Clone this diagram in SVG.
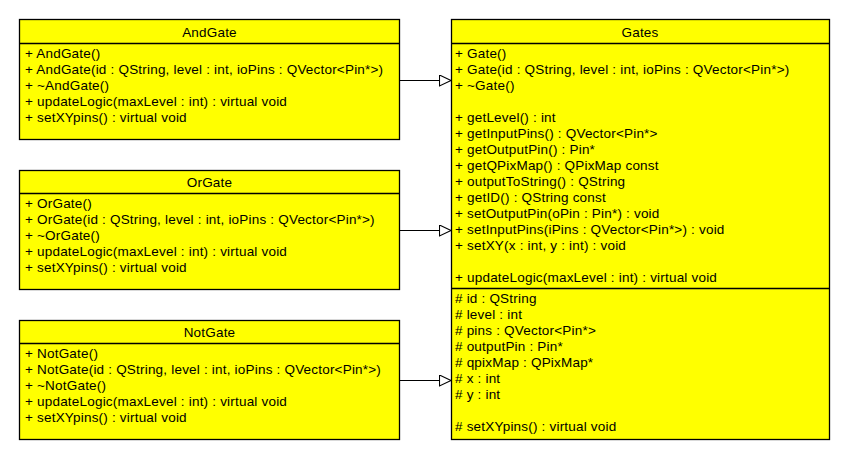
<svg xmlns="http://www.w3.org/2000/svg" width="850" height="460" viewBox="0 0 850 460">
  <defs>
    <style>
      .box { fill: #ffff00; stroke: #000000; stroke-width: 1.3; }
      .sep { stroke: #000000; stroke-width: 1.3; }
      text { font-family: "Liberation Sans", Arial, sans-serif; font-size: 13.5px; letter-spacing: 0.2px; fill: #000000; }
      .title { text-anchor: middle; }
      .edge { fill: none; stroke: #000000; stroke-width: 1.2; }
    </style>
    <!-- hollow triangle for generalization -->
    <marker id="inherit" markerWidth="14" markerHeight="14" refX="12" refY="6" orient="auto" markerUnits="userSpaceOnUse">
      <path d="M0.5,0.5 L12,6 L0.5,11.5 Z" fill="#ffffff" stroke="#000000" stroke-width="1.1"/>
    </marker>
  </defs>
  <rect width="850" height="460" fill="#ffffff"/>

  <g id="connectors">
    <line class="edge" x1="399.5" y1="80.5" x2="451" y2="80.5" marker-end="url(#inherit)"/>
    <line class="edge" x1="399.5" y1="230.5" x2="451" y2="230.5" marker-end="url(#inherit)"/>
    <line class="edge" x1="399.5" y1="380.5" x2="451" y2="380.5" marker-end="url(#inherit)"/>
  </g>

  <g id="AndGate">
    <rect class="box" x="19.5" y="19.5" width="380" height="120"/>
    <line class="sep" x1="19.5" y1="43.5" x2="399.5" y2="43.5"/>
    <text class="title" x="209.5" y="37">AndGate</text>
    <text x="25" y="58">+ AndGate()</text>
    <text x="25" y="74">+ AndGate(id : QString, level : int, ioPins : QVector&lt;Pin*&gt;)</text>
    <text x="25" y="90">+ ~AndGate()</text>
    <text x="25" y="106">+ updateLogic(maxLevel : int) : virtual void</text>
    <text x="25" y="122">+ setXYpins() : virtual void</text>
  </g>

  <g id="OrGate">
    <rect class="box" x="19.5" y="170.5" width="380" height="119"/>
    <line class="sep" x1="19.5" y1="193.5" x2="399.5" y2="193.5"/>
    <text class="title" x="209.5" y="187">OrGate</text>
    <text x="25" y="208">+ OrGate()</text>
    <text x="25" y="224">+ OrGate(id : QString, level : int, ioPins : QVector&lt;Pin*&gt;)</text>
    <text x="25" y="240">+ ~OrGate()</text>
    <text x="25" y="256">+ updateLogic(maxLevel : int) : virtual void</text>
    <text x="25" y="272">+ setXYpins() : virtual void</text>
  </g>

  <g id="NotGate">
    <rect class="box" x="19.5" y="320.5" width="380" height="119"/>
    <line class="sep" x1="19.5" y1="343.5" x2="399.5" y2="343.5"/>
    <text class="title" x="209.5" y="337">NotGate</text>
    <text x="25" y="358">+ NotGate()</text>
    <text x="25" y="374">+ NotGate(id : QString, level : int, ioPins : QVector&lt;Pin*&gt;)</text>
    <text x="25" y="390">+ ~NotGate()</text>
    <text x="25" y="406">+ updateLogic(maxLevel : int) : virtual void</text>
    <text x="25" y="422">+ setXYpins() : virtual void</text>
  </g>

  <g id="Gates">
    <rect class="box" x="451.5" y="19.5" width="378" height="420"/>
    <line class="sep" x1="451.5" y1="43.5" x2="829.5" y2="43.5"/>
    <line class="sep" x1="451.5" y1="288.5" x2="829.5" y2="288.5"/>
    <text class="title" x="640" y="37">Gates</text>
    <text x="455" y="58">+ Gate()</text>
    <text x="455" y="74">+ Gate(id : QString, level : int, ioPins : QVector&lt;Pin*&gt;)</text>
    <text x="455" y="90">+ ~Gate()</text>
    <text x="455" y="122">+ getLevel() : int</text>
    <text x="455" y="138">+ getInputPins() : QVector&lt;Pin*&gt;</text>
    <text x="455" y="154">+ getOutputPin() : Pin*</text>
    <text x="455" y="170">+ getQPixMap() : QPixMap const</text>
    <text x="455" y="186">+ outputToString() : QString</text>
    <text x="455" y="202">+ getID() : QString const</text>
    <text x="455" y="218">+ setOutputPin(oPin : Pin*) : void</text>
    <text x="455" y="234">+ setInputPins(iPins : QVector&lt;Pin*&gt;) : void</text>
    <text x="455" y="250">+ setXY(x : int, y : int) : void</text>
    <text x="455" y="282">+ updateLogic(maxLevel : int) : virtual void</text>
    <text x="455" y="303"># id : QString</text>
    <text x="455" y="319"># level : int</text>
    <text x="455" y="335"># pins : QVector&lt;Pin*&gt;</text>
    <text x="455" y="351"># outputPin : Pin*</text>
    <text x="455" y="367"># qpixMap : QPixMap*</text>
    <text x="455" y="383"># x : int</text>
    <text x="455" y="399"># y : int</text>
    <text x="455" y="431"># setXYpins() : virtual void</text>
  </g>
</svg>
